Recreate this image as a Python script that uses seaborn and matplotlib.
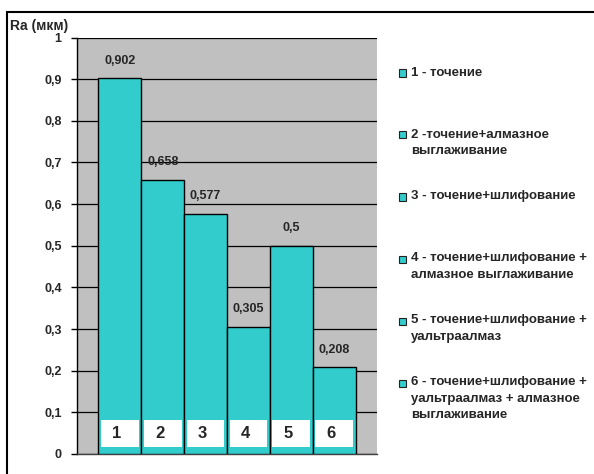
import matplotlib.pyplot as plt
import matplotlib.patches as mpatches
import pandas as pd
import seaborn as sns

# Data
numbers = ["1", "2", "3", "4", "5", "6"]
values = [0.902, 0.658, 0.577, 0.305, 0.5, 0.208]
value_labels = ["0,902", "0,658", "0,577", "0,305", "0,5", "0,208"]
legend_labels = [
    "1 - точение",
    "2 -точение+алмазное\nвыглаживание",
    "3 - точение+шлифование",
    "4 - точение+шлифование +\nалмазное выглаживание",
    "5 - точение+шлифование +\nуальтраалмаз",
    "6 - точение+шлифование +\nуальтраалмаз + алмазное\nвыглаживание",
]
y_ticks = [0, 0.1, 0.2, 0.3, 0.4, 0.5, 0.6, 0.7, 0.8, 0.9, 1]
y_tick_labels = ["0", "0,1", "0,2", "0,3", "0,4", "0,5", "0,6", "0,7", "0,8", "0,9", "1"]

bar_color = "#33CCCC"

df = pd.DataFrame({"num": numbers, "value": values})

sns.set_style("white")
plt.rcParams["font.family"] = ["Liberation Sans", "DejaVu Sans"]
plt.rcParams["font.weight"] = "bold"

W, H = 594, 474
fig = plt.figure(figsize=(W / 100, H / 100), dpi=100)
fig.patch.set_facecolor("white")

# outer chart border (top and left, runs off the image)
fig.add_artist(plt.Line2D([7 / W, 1], [1 - 12 / H, 1 - 12 / H], color="black", lw=1.5))
fig.add_artist(plt.Line2D([7 / W, 7 / W], [0, 1 - 12 / H], color="black", lw=1.5))

ax = fig.add_axes([77 / W, 20 / H, 300 / W, 416.5 / H])
ax.set_facecolor("#C0C0C0")

sns.barplot(data=df, x="num", y="value", color=bar_color, width=1.0,
            edgecolor="black", linewidth=1.0, saturation=1, ax=ax, zorder=3)

ax.set_xlim(-1, 6)
ax.set_ylim(0, 1)
ax.set_yticks(y_ticks)
ax.set_yticklabels(y_tick_labels, fontsize=9, fontweight="bold")
ax.set_xticks([])
ax.set_xlabel("")
ax.set_ylabel("")
ax.tick_params(axis="y", length=4, width=1, color="black", pad=7, left=True)
ax.yaxis.grid(True, color="black", linewidth=0.9, zorder=0)
ax.set_axisbelow(True)
for side in ["top", "right"]:
    ax.spines[side].set_visible(False)
ax.spines["left"].set_color("black")
ax.spines["left"].set_linewidth(1)
ax.spines["bottom"].set_color("#404040")
ax.spines["bottom"].set_linewidth(1)

# value labels above bars and white number boxes inside bars
for i, (v, lab, n) in enumerate(zip(values, value_labels, numbers)):
    ax.text(i, v + 0.042, lab, ha="center", va="center", fontsize=9,
            fontweight="bold", zorder=5)
    ax.add_patch(mpatches.Rectangle((i - 0.44, 0.017), 0.88, 0.065,
                                    facecolor="white", edgecolor="none", zorder=4))
    ax.text(i - 0.07, 0.05, n, ha="center", va="center", fontsize=12,
            fontweight="bold", zorder=5)

ax.text(-0.03, 1.012, "Ra (мкм)", transform=ax.transAxes, ha="right", va="bottom",
        fontsize=10, fontweight="bold")

# legend, drawn in Excel style
for i, lab in enumerate(legend_labels):
    yc = 73 + 62 * i
    fig.add_artist(mpatches.Rectangle((399 / W, 1 - (yc + 3.5) / H), 7 / W, 7 / H,
                                      facecolor=bar_color, edgecolor="#222222", lw=0.8,
                                      transform=fig.transFigure))
    fig.text(411 / W, 1 - (yc - 6.5) / H, lab, ha="left", va="top", fontsize=9.5,
             fontweight="bold", linespacing=1.45)

fig.savefig("out.png", dpi=100)
